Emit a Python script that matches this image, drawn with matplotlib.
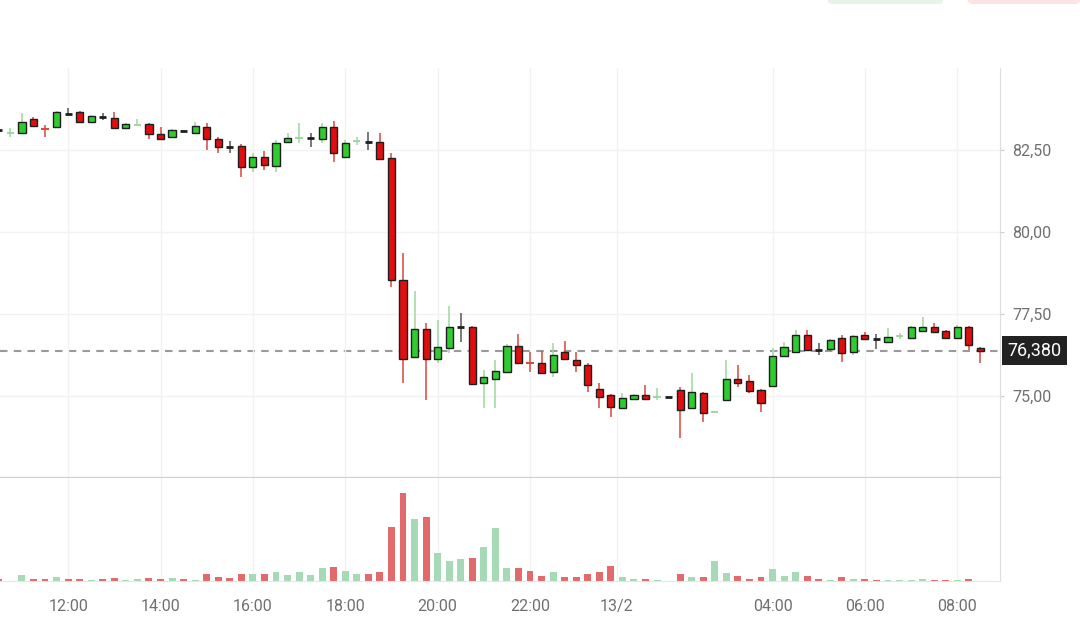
import numpy as np
import matplotlib

matplotlib.use("Agg")

import matplotlib.pyplot as plt
from matplotlib.patches import FancyBboxPatch
from matplotlib.ticker import FuncFormatter
import matplotlib.transforms as mtransforms

plt.rcParams["font.family"] = ["Roboto", "DejaVu Sans"]

# 15-minute candles, oldest first
opens = [83.11, 83.02, 83.02, 83.45, 83.15, 83.20, 83.60, 83.66, 83.35, 83.51,
         83.48, 83.17, 83.25, 83.29, 82.99, 82.90, 83.08, 83.02, 83.20, 82.84,
         82.59, 82.62, 81.98, 82.29, 82.01, 82.74, 82.85, 82.87, 82.84, 83.20,
         82.29, 82.76, 82.74, 82.74, 82.26, 78.54, 76.19, 77.04, 76.13, 76.46,
         77.10, 77.10, 75.40, 75.52, 75.73, 76.52, 76.02, 76.01, 75.73, 76.34,
         76.10, 75.95, 75.21, 75.03, 74.63, 74.91, 75.03, 74.96, 74.97, 75.18,
         74.63, 75.09, 74.51, 74.88, 75.52, 75.46, 75.18, 75.30, 76.22, 76.34,
         76.86, 76.40, 76.43, 76.77, 76.34, 76.86, 76.74, 76.65, 76.82, 76.77,
         76.98, 77.10, 76.98, 76.77, 77.10, 76.46]
highs = [83.20, 83.17, 83.63, 83.50, 83.26, 83.68, 83.78, 83.70, 83.56, 83.62,
         83.66, 83.31, 83.45, 83.31, 83.20, 83.13, 83.11, 83.35, 83.32, 82.90,
         82.77, 82.68, 82.41, 82.47, 82.80, 83.02, 83.32, 83.02, 83.32, 83.38,
         82.80, 82.90, 83.05, 83.02, 82.41, 79.36, 78.20, 77.23, 77.32, 77.74,
         77.53, 77.13, 75.79, 76.10, 76.59, 76.89, 76.34, 76.37, 76.62, 76.68,
         76.34, 76.01, 75.40, 75.06, 75.09, 75.06, 75.34, 75.24, 74.98, 75.27,
         75.70, 75.12, 74.53, 76.10, 75.95, 75.64, 75.21, 76.46, 76.65, 77.01,
         77.01, 76.62, 76.74, 76.86, 76.86, 76.95, 76.89, 77.07, 76.92, 77.13,
         77.41, 77.23, 77.01, 77.16, 77.13, 76.49]
lows = [83.02, 82.90, 83.02, 83.23, 82.90, 83.18, 83.57, 83.35, 83.33, 83.41,
        83.14, 83.15, 83.24, 82.84, 82.84, 82.88, 83.06, 83.00, 82.50, 82.41,
        82.41, 81.68, 81.83, 81.89, 81.83, 82.72, 82.71, 82.59, 82.71, 82.13,
        82.26, 82.65, 82.50, 82.20, 78.32, 75.40, 76.17, 74.88, 76.01, 76.31,
        76.65, 75.35, 74.63, 74.63, 75.70, 75.98, 75.73, 75.68, 75.58, 76.10,
        75.73, 75.12, 74.63, 74.36, 74.60, 74.88, 74.88, 74.88, 74.96, 73.72,
        74.60, 74.21, 74.50, 74.85, 75.27, 75.09, 74.51, 75.28, 76.20, 76.31,
        76.37, 76.25, 76.40, 76.04, 76.25, 76.71, 76.43, 76.62, 76.74, 76.74,
        76.95, 76.92, 76.74, 76.74, 76.40, 76.01]
closes = [83.11, 83.03, 83.35, 83.23, 83.13, 83.66, 83.60, 83.35, 83.54, 83.51,
          83.17, 83.29, 83.26, 82.99, 82.84, 83.11, 83.08, 83.23, 82.84, 82.59,
          82.59, 81.98, 82.29, 82.04, 82.71, 82.87, 82.86, 82.87, 83.20, 82.41,
          82.71, 82.77, 82.74, 82.23, 78.54, 76.13, 77.04, 76.13, 76.49, 77.09,
          77.10, 75.37, 75.58, 75.76, 76.52, 76.01, 76.00, 75.70, 76.25, 76.13,
          75.95, 75.34, 74.97, 74.66, 74.94, 75.03, 74.91, 74.97, 74.97, 74.57,
          75.12, 74.48, 74.52, 75.52, 75.40, 75.15, 74.79, 76.22, 76.49, 76.86,
          76.40, 76.40, 76.71, 76.31, 76.83, 76.74, 76.74, 76.80, 76.83, 77.10,
          77.10, 76.95, 76.77, 77.10, 76.55, 76.38]
volumes = [2.0, 0.5, 5.7, 1.7, 1.7, 4.3, 1.7, 1.7, 1.3, 1.7,
           3.0, 0.7, 1.7, 3.0, 1.7, 2.7, 1.7, 1.3, 7.3, 4.3,
           2.7, 7.3, 7.3, 7.3, 9.0, 5.7, 9.0, 5.7, 13.3, 14.0,
           10.3, 7.3, 7.3, 9.0, 54.3, 87.7, 62.3, 64.0, 28.3, 20.0,
           21.7, 23.3, 34.0, 52.7, 13.3, 13.3, 10.3, 5.3, 8.7, 4.0,
           4.0, 7.0, 8.7, 15.0, 4.0, 2.3, 2.3, 1.0, 0.3, 7.0,
           4.0, 4.0, 19.7, 8.3, 5.3, 2.3, 4.0, 11.7, 5.3, 8.7,
           5.3, 1.7, 1.0, 4.0, 2.3, 2.3, 1.3, 1.0, 1.0, 1.0,
           2.3, 1.3, 1.3, 1.0, 2.3, 0.5]

# time labels and the candle slot each one sits on
time_labels = ["12:00", "14:00", "16:00", "18:00", "20:00", "22:00", "13/2", "04:00", "06:00", "08:00"]
time_slots = [6, 14, 22, 30, 38, 46, 53.5, 67, 75, 83]
price_ticks = [75.0, 77.5, 80.0, 82.5]

o = np.array(opens)
h = np.array(highs)
l = np.array(lows)
c = np.array(closes)
v = np.array(volumes)
x = np.arange(len(o))

GREEN = "#2fcc2f"
RED = "#e00e0e"
WICK_UP = "#9fd69f"
WICK_DOWN = "#d9463c"
VOL_UP = "#a6dab6"
VOL_DOWN = "#e36a6a"
GRID = "#f2f2f2"

fig = plt.figure(figsize=(10.8, 6.29), dpi=100)
ax = fig.add_axes([0, 1 - 478 / 629, 1000 / 1080, 410 / 629])
axv = fig.add_axes([0, 1 - 581 / 629, 1000 / 1080, 103 / 629], sharex=ax)

diff = c - o
up = diff > 0
doji = diff == 0
tiny = (np.abs(diff) < 0.025) & ~doji
normal = ~doji & ~tiny

# wicks
wick_col = np.where(up, WICK_UP, WICK_DOWN)
wick_col = np.where(doji, "#555555", wick_col)
ax.vlines(x, l, h, colors=wick_col, lw=1.1, zorder=2)

# bodies
bw = 0.62
body_col = np.where(up, GREEN, RED)
ax.bar(x[normal], np.abs(diff[normal]), bottom=np.minimum(o, c)[normal], width=bw,
       color=body_col[normal], edgecolor="#1e1e1e", linewidth=1.0, zorder=3)
ax.hlines(c[doji], x[doji] - bw / 2, x[doji] + bw / 2, colors="#1e1e1e", lw=2.0, zorder=3)
ax.hlines(c[tiny], x[tiny] - bw / 2, x[tiny] + bw / 2, colors=wick_col[tiny], lw=1.4, zorder=3)

# current price line and tag
last = c[-1]
ax.axhline(last, color="#9a9a9a", lw=1.5, dashes=(3.6, 3.0), zorder=1)
trans = mtransforms.blended_transform_factory(ax.transAxes, ax.transData)
ax.text(1.007, last, f"{last:.3f}".replace(".", ","), transform=trans, ha="left", va="center",
        color="white", fontsize=13, clip_on=False,
        bbox=dict(boxstyle="square,pad=0.3", fc="#222222", ec="none"))

ax.set_ylim(72.5, 85.0)
ax.set_xlim(0.1, 86.7)
ax.set_yticks(price_ticks)
ax.yaxis.set_major_formatter(FuncFormatter(lambda val, _: f"{val:.2f}".replace(".", ",")))
ax.yaxis.tick_right()
ax.tick_params(axis="y", length=3, color="#cccccc", labelcolor="#707070", labelsize=11.5, pad=6)
ax.tick_params(axis="x", length=0, labelbottom=False)
ax.set_xticks(time_slots)
ax.grid(True, color=GRID, lw=1.0, zorder=0)
for side in ["top", "left"]:
    ax.spines[side].set_visible(False)
ax.spines["right"].set_color("#dddddd")
ax.spines["bottom"].set_color("#cfcfcf")
ax.spines["bottom"].set_linewidth(1.6)

# volume
vcol = np.where(up, VOL_UP, VOL_DOWN)
prev = np.concatenate([[c[0]], c[:-1]])
vcol = np.where(doji, np.where(c > prev, VOL_UP, VOL_DOWN), vcol)
axv.bar(x, v, width=0.6, color=vcol, zorder=2)
axv.set_ylim(0, 103)
axv.set_yticks([])
axv.set_xticks(time_slots)
axv.set_xticklabels(time_labels)
axv.tick_params(axis="x", length=0, labelcolor="#707070", labelsize=11.5, pad=13)
axv.grid(True, axis="x", color=GRID, lw=1.0, zorder=0)
for side in ["top", "left"]:
    axv.spines[side].set_visible(False)
axv.spines["right"].set_color("#dddddd")
axv.spines["bottom"].set_color("#e6e6e6")

# faded buttons peeking in at the top
fig.patches.append(FancyBboxPatch((828 / 1080, 1 - 4 / 629), 115 / 1080, 0.02,
                                  boxstyle="round,pad=0.0,rounding_size=0.005",
                                  transform=fig.transFigure, fc="#e6f3e6", ec="none"))
fig.patches.append(FancyBboxPatch((968 / 1080, 1 - 4 / 629), 112 / 1080, 0.02,
                                  boxstyle="round,pad=0.0,rounding_size=0.005",
                                  transform=fig.transFigure, fc="#fde3e3", ec="none"))

fig.savefig("out.png", dpi=100)
